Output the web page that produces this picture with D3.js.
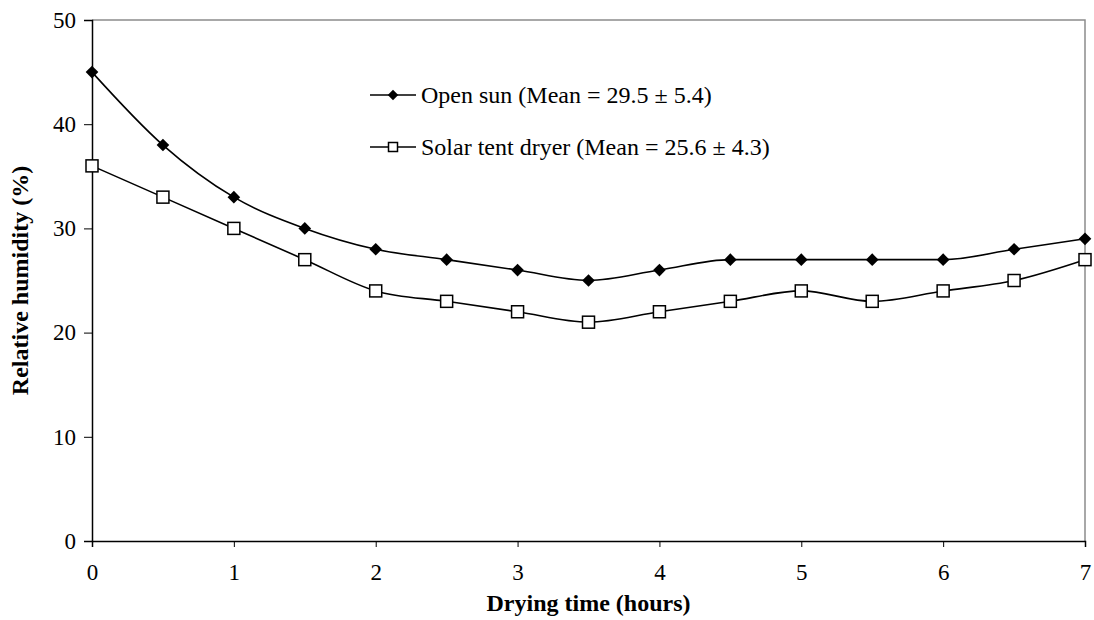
<!DOCTYPE html>
<html>
<head>
<meta charset="utf-8">
<script src="https://cdn.jsdelivr.net/npm/d3@7"></script>
<style>
  body { margin: 0; background: #fff; }
  svg text { font-family: "Times New Roman", "Liberation Serif", serif; fill: #000; }
</style>
</head>
<body>
<div id="chart"></div>
<script>
// drying time (hours)
var hours = [0, 0.5, 1, 1.5, 2, 2.5, 3, 3.5, 4, 4.5, 5, 5.5, 6, 6.5, 7];
// relative humidity (%)
var openSun = [45, 38, 33, 30, 28, 27, 26, 25, 26, 27, 27, 27, 27, 28, 29];
var solarTent = [36, 33, 30, 27, 24, 23, 22, 21, 22, 23, 24, 23, 24, 25, 27];
var seriesNames = ["Open sun (Mean = 29.5 \u00b1 5.4)", "Solar tent dryer (Mean = 25.6 \u00b1 4.3)"];
var xTicks = [0, 1, 2, 3, 4, 5, 6, 7];
var yTicks = [0, 10, 20, 30, 40, 50];

var width = 1094, height = 620;
var margin = {top: 20, right: 9, bottom: 79, left: 92};
var serif = "'Times New Roman', 'Liberation Serif', serif";

var svg = d3.select("#chart").append("svg")
    .attr("width", width)
    .attr("height", height);

var x = d3.scaleLinear().domain([0, 7]).range([margin.left, width - margin.right]);
var y = d3.scaleLinear().domain([0, 50]).range([height - margin.bottom, margin.top]);

// grey frame on top and right
svg.append("path")
    .attr("d", "M" + x(0) + "," + y(50) + "H" + x(7) + "V" + y(0))
    .attr("fill", "none")
    .attr("stroke", "#8c8c8c")
    .attr("stroke-width", 1.5);

// axes
var yAxis = svg.append("g")
    .attr("transform", "translate(" + x(0) + ",0)")
    .call(d3.axisLeft(y).tickValues(yTicks).tickFormat(d3.format("d")).tickSize(8).tickPadding(8));
var xAxis = svg.append("g")
    .attr("transform", "translate(0," + y(0) + ")")
    .call(d3.axisBottom(x).tickValues(xTicks).tickFormat(d3.format("d")).tickSize(6).tickPadding(17));

[xAxis, yAxis].forEach(function(a) {
    a.attr("font-family", serif).attr("font-size", 23);
    a.select(".domain").attr("stroke", "#000").attr("stroke-width", 1.5);
    a.selectAll(".tick line").attr("stroke", "#000").attr("stroke-width", 1);
    a.selectAll(".tick text").attr("fill", "#000");
});

// axis titles
svg.append("text")
    .attr("x", x(3.5))
    .attr("y", 611)
    .attr("text-anchor", "middle")
    .style("font-size", "24px")
    .style("font-weight", "bold")
    .text("Drying time (hours)");

svg.append("text")
    .attr("transform", "translate(28," + y(25) + ") rotate(-90)")
    .attr("text-anchor", "middle")
    .style("font-size", "24px")
    .style("font-weight", "bold")
    .text("Relative humidity (%)");

// lines (smoothed like the original)
var line = d3.line()
    .x(function(d) { return x(d[0]); })
    .y(function(d) { return y(d[1]); })
    .curve(d3.curveMonotoneX);

var series = [openSun, solarTent].map(function(vals) {
    return hours.map(function(h, i) { return [h, vals[i]]; });
});

series.forEach(function(s) {
    svg.append("path")
        .datum(s)
        .attr("d", line)
        .attr("fill", "none")
        .attr("stroke", "#000")
        .attr("stroke-width", 1.6);
});

function drawDiamond(g, cx, cy, size) {
    g.append("path")
        .attr("d", d3.symbol().type(d3.symbolSquare).size(size))
        .attr("transform", "translate(" + cx + "," + cy + ") rotate(45)")
        .attr("fill", "#000");
}
function drawSquare(g, cx, cy, s) {
    g.append("rect")
        .attr("x", cx - s / 2).attr("y", cy - s / 2)
        .attr("width", s).attr("height", s)
        .attr("fill", "#fff")
        .attr("stroke", "#000")
        .attr("stroke-width", 1.5);
}

series[0].forEach(function(d) { drawDiamond(svg, x(d[0]), y(d[1]), 80); });
series[1].forEach(function(d) { drawSquare(svg, x(d[0]), y(d[1]), 12); });

// legend
var legend = svg.append("g");
var legY = [95, 147];
legY.forEach(function(ly, i) {
    legend.append("line")
        .attr("x1", 370).attr("x2", 416)
        .attr("y1", ly).attr("y2", ly)
        .attr("stroke", "#000")
        .attr("stroke-width", 1.6);
    if (i === 0) drawDiamond(legend, 393, ly, 55);
    else drawSquare(legend, 393, ly, 9);
    legend.append("text")
        .attr("x", 421)
        .attr("y", ly)
        .attr("dy", "0.33em")
        .style("font-size", "24px")
        .text(seriesNames[i]);
});
</script>
</body>
</html>
